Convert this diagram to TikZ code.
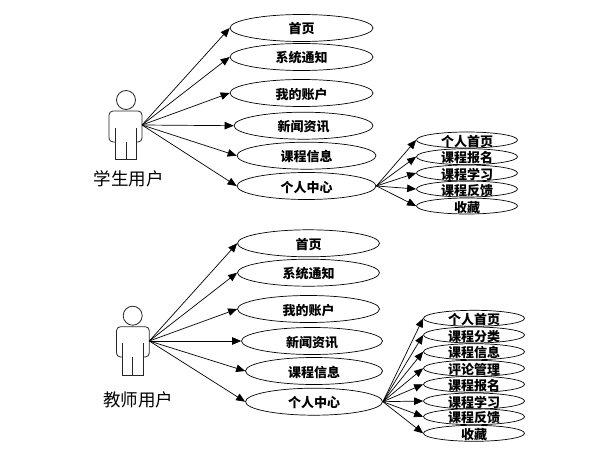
\documentclass[tikz,border=0pt]{standalone}
\usepackage{fontspec}
\setmainfont{Noto Sans CJK SC}
\usetikzlibrary{shapes.geometric, arrows.meta}
\tikzset{
  usecase/.style={draw, ellipse, inner xsep=0pt, inner ysep=-2pt, text height=12pt, text depth=0pt, minimum height=27pt, font=\fontsize{13}{13}\selectfont\bfseries},
  subcase/.style={usecase, minimum width=101pt, minimum height=16pt},
  actorname/.style={font=\fontsize{17.5}{17.5}\selectfont},
  link/.style={-{Triangle[length=9pt,width=7.5pt]}, line width=0.7pt},
  actorline/.style={line width=0.8pt, black!85}
}
\begin{document}
\begin{tikzpicture}[x=1pt, y=-1pt, line width=0.7pt]
  \useasboundingbox (0,0) rectangle (591,452);

  % Student actor
  \node[circle, draw, actorline, minimum size=19pt, inner sep=0pt] (stuhead) at (126,100) {};
  \draw[actorline, rounded corners=4pt] (115,142) -- (109,142) -- (109,111) -- (142,111) -- (142,142) -- (136.5,142);
  \draw[actorline] (115,128) -- (115,159) -- (136.5,159) -- (136.5,128);
  \draw[actorline] (126,142) -- (126,159);
  \coordinate (stuhand) at (142,125);
  \node[actorname] (stuname) at (128.5,178.5) {学生用户};

  % Student use cases
  \node[usecase, minimum width=143pt] (stuhome) at (301.5,28) {首页};
  \node[usecase, minimum width=143pt] (stunotice) at (301.5,57) {系统通知};
  \node[usecase, minimum width=143pt] (stuaccount) at (301.5,93) {我的账户};
  \node[usecase, minimum width=139pt] (stunews) at (303.5,125.7) {新闻资讯};
  \node[usecase, minimum width=139pt] (stucourse) at (306.5,155.7) {课程信息};
  \node[usecase, minimum width=139pt] (stucenter) at (306.5,186) {个人中心};

  \draw[link] (stuhand) -- (stuhome.west);
  \draw[link] (stuhand) -- (stunotice.west);
  \draw[link] (stuhand) -- (stuaccount.west);
  \draw[link] (stuhand) -- (stunews.west);
  \draw[link] (stuhand) -- (stucourse.west);
  \draw[link] (stuhand) -- (stucenter.west);

  % Student personal center
  \node[subcase] (stuhomepage) at (467,140) {个人首页};
  \node[subcase] (stuenroll) at (467,156.7) {课程报名};
  \node[subcase] (stustudy) at (467,173) {课程学习};
  \node[subcase] (stufeedback) at (467,189) {课程反馈};
  \node[subcase] (stufav) at (467,206) {收藏};

  \draw[link] (stucenter.east) -- (stuhomepage.west);
  \draw[link] (stucenter.east) -- (stuenroll.west);
  \draw[link] (stucenter.east) -- (stustudy.west);
  \draw[link] (stucenter.east) -- (stufeedback.west);
  \draw[link] (stucenter.east) -- (stufav.west);

  % Teacher actor
  \node[circle, draw, actorline, minimum size=19pt, inner sep=0pt] (teahead) at (132.7,315.7) {};
  \draw[actorline, rounded corners=4pt] (122,357) -- (116.5,357) -- (116.5,326.7) -- (149.3,326.7) -- (149.3,357) -- (143.7,357);
  \draw[actorline] (122,343) -- (122,375) -- (143.7,375) -- (143.7,343);
  \draw[actorline] (132.7,357) -- (132.7,375);
  \coordinate (teahand) at (149.3,341);
  \node[actorname] (teaname) at (138,399.5) {教师用户};

  % Teacher use cases
  \node[usecase, minimum width=142pt] (teahome) at (308.5,243.3) {首页};
  \node[usecase, minimum width=142pt] (teanotice) at (308.5,272.7) {系统通知};
  \node[usecase, minimum width=142pt] (teaaccount) at (308.5,309) {我的账户};
  \node[usecase, minimum width=141pt] (teanews) at (312,341) {新闻资讯};
  \node[usecase, minimum width=137pt] (teacourse) at (314,371) {课程信息};
  \node[usecase, minimum width=137pt] (teacenter) at (314,401.7) {个人中心};

  \draw[link] (teahand) -- (teahome.west);
  \draw[link] (teahand) -- (teanotice.west);
  \draw[link] (teahand) -- (teaaccount.west);
  \draw[link] (teahand) -- (teanews.west);
  \draw[link] (teahand) -- (teacourse.west);
  \draw[link] (teahand) -- (teacenter.west);

  % Teacher personal center
  \node[subcase] (teahomepage) at (474,318.3) {个人首页};
  \node[subcase] (teacategory) at (474,335) {课程分类};
  \node[subcase] (teainfo) at (474,351.7) {课程信息};
  \node[subcase] (teareview) at (474,368.3) {评论管理};
  \node[subcase] (teaenroll) at (474,384.3) {课程报名};
  \node[subcase] (teastudy) at (474,401) {课程学习};
  \node[subcase] (teafeedback) at (474,416.7) {课程反馈};
  \node[subcase] (teafav) at (474,433.3) {收藏};

  \draw[link] (teacenter.east) -- (teahomepage.west);
  \draw[link] (teacenter.east) -- (teacategory.west);
  \draw[link] (teacenter.east) -- (teainfo.west);
  \draw[link] (teacenter.east) -- (teareview.west);
  \draw[link] (teacenter.east) -- (teaenroll.west);
  \draw[link] (teacenter.east) -- (teastudy.west);
  \draw[link] (teacenter.east) -- (teafeedback.west);
  \draw[link] (teacenter.east) -- (teafav.west);
\end{tikzpicture}
\end{document}
